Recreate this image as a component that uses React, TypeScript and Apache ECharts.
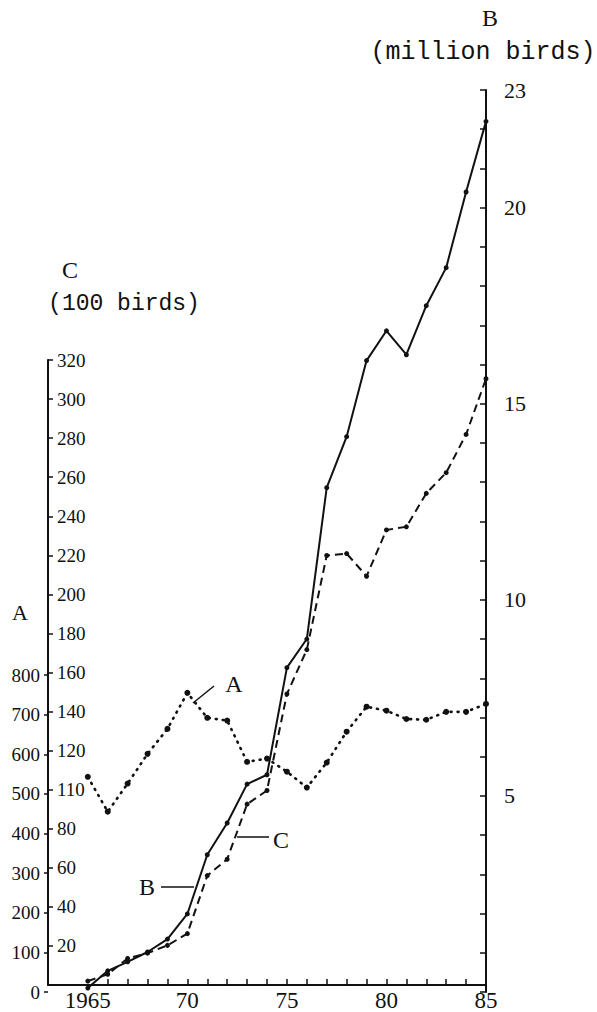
import React, { useEffect, useRef } from "react";
import * as echarts from "echarts";

const years = [
  "1963", "1964", "1965", "1966", "1967", "1968", "1969", "1970", "1971", "1972", "1973", "1974",
  "1975", "1976", "1977", "1978", "1979", "1980", "1981", "1982", "1983", "1984", "1985",
];
// B: million birds (right axis)
const seriesB = [null, null, 0.1, 0.54, 0.77, 1.02, 1.35, 1.99, 3.5, 4.31, 5.3, 5.54, 8.27, 9.0, 12.86, 14.16, 16.1, 16.86, 16.25, 17.5, 18.47, 20.4, 22.2];
// C: 100 birds (inner left axis)
const seriesC = [null, null, 2, 5.5, 13.6, 16.3, 20.3, 26.3, 56, 64.4, 92.6, 99.6, 149, 171.7, 219.9, 220.9, 209.3, 233, 234.6, 251.7, 262.3, 281.9, 310.4];
// A: outer left axis
const seriesA = [null, null, 543, 455, 526, 601, 664, 755, 692, 685, 581, 589, 556, 516, 579, 657, 720, 710, 689, 687, 707, 707, 727];

const xLabelYears = ["1965", "1970", "1975", "1980", "1985"];
const xLabelText: Record<string, string> = { "1965": "1965", "1970": "70", "1975": "75", "1980": "80", "1985": "85" };
const bLabels = [5, 10, 15, 20, 23];
const cLabelOverride: Record<number, string> = { 100: "110" };

const SERIF = "'Liberation Serif', 'DejaVu Serif', serif";
const MONO = "'Liberation Mono', 'DejaVu Sans Mono', monospace";

export default function App() {
  const ref = useRef<HTMLDivElement>(null);
  useEffect(() => {
    if (!ref.current) return;
    const chart = echarts.init(ref.current, null, { renderer: "svg" });
    const black = "#111";
    const gridBase = { left: 48, right: 111, bottom: 20 };
    chart.setOption({
      animation: false,
      backgroundColor: "#fff",
      grid: [
        { ...gridBase, top: 360 },
        { ...gridBase, top: 90 },
        { ...gridBase, top: 675 },
      ],
      xAxis: [
        {
          gridIndex: 0,
          type: "category",
          data: years,
          boundaryGap: false,
          axisLine: { show: true, lineStyle: { color: black, width: 2 } },
          axisTick: {
            show: true,
            inside: true,
            length: 6,
            interval: (i: number, v: string) => Number(v) >= 1966 && Number(v) <= 1984,
            lineStyle: { color: black, width: 1.5 },
          },
          axisLabel: {
            interval: (i: number, v: string) => xLabelYears.includes(v),
            formatter: (v: string) => xLabelText[v] ?? "",
            color: black,
            fontSize: 23,
            fontFamily: SERIF,
            margin: 4,
          },
          splitLine: { show: false },
        },
        { gridIndex: 1, type: "category", data: years, boundaryGap: false, show: false },
        { gridIndex: 2, type: "category", data: years, boundaryGap: false, show: false },
      ],
      yAxis: [
        {
          gridIndex: 0,
          type: "value",
          min: 0,
          max: 320,
          interval: 20,
          position: "left",
          axisLine: { show: true, lineStyle: { color: black, width: 2 } },
          axisTick: { show: true, inside: true, length: 5, lineStyle: { color: black, width: 1.5 } },
          axisLabel: {
            inside: true,
            margin: 9,
            showMaxLabel: true,
            color: black,
            fontSize: 19,
            fontFamily: SERIF,
            formatter: (v: number) => (v === 0 ? "" : cLabelOverride[v] ?? String(v)),
          },
          splitLine: { show: false },
        },
        {
          gridIndex: 1,
          type: "value",
          min: 0,
          max: 23,
          interval: 1,
          position: "right",
          axisLine: { show: true, lineStyle: { color: black, width: 2 } },
          axisTick: { show: true, inside: true, length: 6, lineStyle: { color: black, width: 1.5 } },
          axisLabel: {
            margin: 18,
            showMaxLabel: true,
            color: black,
            fontSize: 22,
            fontFamily: SERIF,
            formatter: (v: number) => (bLabels.includes(v) ? String(v) : ""),
          },
          splitLine: { show: false },
        },
        {
          gridIndex: 2,
          type: "value",
          min: 0,
          max: 800,
          interval: 100,
          position: "left",
          axisLine: { show: false },
          axisTick: { show: true, inside: false, length: 4, lineStyle: { color: black, width: 1.5 } },
          axisLabel: {
            margin: 8,
            showMaxLabel: true,
            color: black,
            fontSize: 19,
            fontFamily: SERIF,
          },
          splitLine: { show: false },
        },
      ],
      series: [
        {
          name: "B",
          type: "line",
          xAxisIndex: 1,
          yAxisIndex: 1,
          data: seriesB,
          symbol: "circle",
          symbolSize: 5,
          itemStyle: { color: black },
          lineStyle: { color: black, width: 2, type: "solid" },
        },
        {
          name: "C",
          type: "line",
          xAxisIndex: 0,
          yAxisIndex: 0,
          data: seriesC,
          symbol: "circle",
          symbolSize: 5,
          itemStyle: { color: black },
          lineStyle: { color: black, width: 2, type: [8, 5] },
        },
        {
          name: "A",
          type: "line",
          xAxisIndex: 2,
          yAxisIndex: 2,
          data: seriesA,
          symbol: "circle",
          symbolSize: 6,
          itemStyle: { color: black },
          lineStyle: { color: black, width: 2.6, type: [1, 6], cap: "round" },
        },
      ],
      graphic: [
        { type: "text", x: 490, y: 18, style: { text: "B", font: `24px ${SERIF}`, fill: black, textAlign: "center", textVerticalAlign: "middle" } },
        { type: "text", x: 483, y: 52, style: { text: "(million birds)", font: `25px ${MONO}`, fill: black, textAlign: "center", textVerticalAlign: "middle" } },
        { type: "text", x: 70, y: 270, style: { text: "C", font: `24px ${SERIF}`, fill: black, textAlign: "center", textVerticalAlign: "middle" } },
        { type: "text", x: 124, y: 304, style: { text: "(100 birds)", font: `23px ${MONO}`, fill: black, textAlign: "center", textVerticalAlign: "middle" } },
        { type: "text", x: 20, y: 612, style: { text: "A", font: `22px ${SERIF}`, fill: black, textAlign: "center", textVerticalAlign: "middle" } },
        { type: "text", x: 234, y: 684, style: { text: "A", font: `24px ${SERIF}`, fill: black, textAlign: "center", textVerticalAlign: "middle" } },
        { type: "line", shape: { x1: 193, y1: 703, x2: 214, y2: 686 }, style: { stroke: black, lineWidth: 1.5 } },
        { type: "text", x: 147, y: 887, style: { text: "B", font: `24px ${SERIF}`, fill: black, textAlign: "center", textVerticalAlign: "middle" } },
        { type: "line", shape: { x1: 161, y1: 887, x2: 194, y2: 887 }, style: { stroke: black, lineWidth: 1.5 } },
        { type: "text", x: 281, y: 840, style: { text: "C", font: `24px ${SERIF}`, fill: black, textAlign: "center", textVerticalAlign: "middle" } },
        { type: "line", shape: { x1: 237, y1: 837, x2: 269, y2: 837 }, style: { stroke: black, lineWidth: 1.5 } },
      ],
    });
    return () => chart.dispose();
  }, []);
  return <div ref={ref} style={{ position: "absolute", left: 0, top: 0, width: 597, height: 1012 }} />;
}
